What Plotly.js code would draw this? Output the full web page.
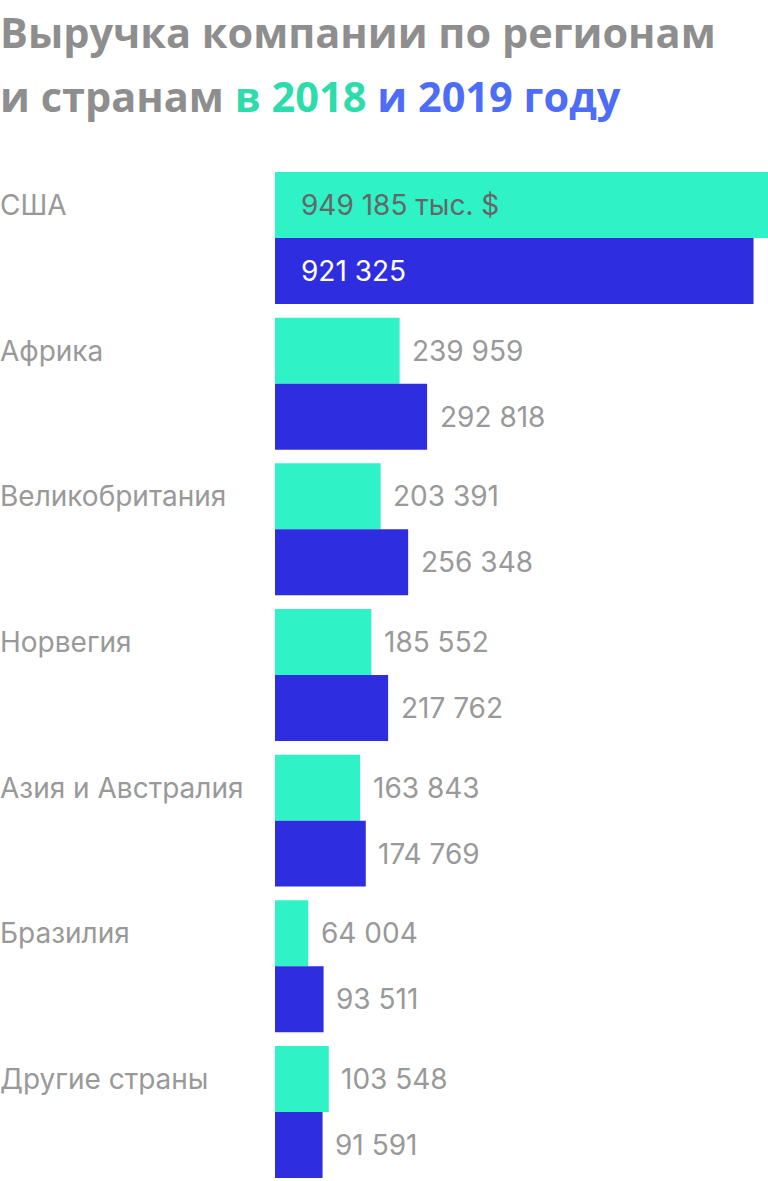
<!DOCTYPE html>
<html>
<head>
<meta charset="utf-8">
<script src="https://cdn.plot.ly/plotly-3.0.1.min.js"></script>
<style>
html,body{margin:0;padding:0;background:#fff;}
#chart{width:768px;height:1181px;}
</style>
</head>
<body>
<div id="chart"></div>
<script>
// ---- data ----
const categories = ["США", "Африка", "Великобритания", "Норвегия", "Азия и Австралия", "Бразилия", "Другие страны"];
const revenue2018 = [949185, 239959, 203391, 185552, 163843, 64004, 103548];
const revenue2019 = [921325, 292818, 256348, 217762, 174769, 93511, 91591];
const seriesNames = ["2018", "2019"];
const unitSuffix = " тыс. $";
const titleLine1 = "Выручка компании по регионам";
const titleLine2a = "и странам ";
const titleLine2b = "в 2018";
const titleLine2c = " и 2019 году";

// ---- style ----
const C18 = "#2ff3c6", C19 = "#2e2de0";
const GRAY = "#999999", TITLE_GRAY = "#8e8e8e";
const TEAL_T = "#2ddcaa", BLUE_T = "#4d6cf8";
const FONT = "Inter, Roboto, sans-serif";
const TFONT = "'Open Sans', Inter, sans-serif";

function fmt(v){ return String(v).replace(/\B(?=(\d{3})+(?!\d))/g, " "); }

const traces = [
  {type:"bar", orientation:"h", name:seriesNames[0], y:categories, x:revenue2018,
   marker:{color:C18}, hoverinfo:"none"},
  {type:"bar", orientation:"h", name:seriesNames[1], y:categories, x:revenue2019,
   marker:{color:C19}, hoverinfo:"none"}
];

const T = 165, H = 1181, PH = H - T;
const pyToPaper = py => 1 + (T - py) / PH;
const ann = [];

// title
ann.push({xref:"paper", yref:"paper", x:0, xshift:-277, xanchor:"left", y:pyToPaper(32), yanchor:"middle",
  text:"<b>"+titleLine1+"</b>", showarrow:false, font:{family:TFONT, size:41.5, color:TITLE_GRAY}});
ann.push({xref:"paper", yref:"paper", x:0, xshift:-277, xanchor:"left", y:pyToPaper(96), yanchor:"middle",
  text:"<b>"+titleLine2a+"<span style='color:"+TEAL_T+"'>"+titleLine2b+"</span><span style='color:"+BLUE_T+"'>"+titleLine2c+"</span></b>",
  showarrow:false, font:{family:TFONT, size:41.5, color:TITLE_GRAY}});

categories.forEach((c, i) => {
  ann.push({xref:"x", yref:"y", x:0, xshift:-277, xanchor:"left", y:c, yshift:33, yanchor:"middle",
    text:c, showarrow:false, font:{family:FONT, size:28, color:GRAY}});
  if (i === 0) {
    ann.push({xref:"x", yref:"y", x:0, xshift:24, xanchor:"left", y:c, yshift:33, yanchor:"middle",
      text:fmt(revenue2018[i]) + unitSuffix, showarrow:false, font:{family:FONT, size:28, color:"#666666"}});
    ann.push({xref:"x", yref:"y", x:0, xshift:24, xanchor:"left", y:c, yshift:-33, yanchor:"middle",
      text:fmt(revenue2019[i]), showarrow:false, font:{family:FONT, size:28, color:"#ffffff"}});
  } else {
    ann.push({xref:"x", yref:"y", x:revenue2018[i], xshift:10.5, xanchor:"left", y:c, yshift:33, yanchor:"middle",
      text:fmt(revenue2018[i]), showarrow:false, font:{family:FONT, size:28, color:GRAY}});
    ann.push({xref:"x", yref:"y", x:revenue2019[i], xshift:10.5, xanchor:"left", y:c, yshift:-33, yanchor:"middle",
      text:fmt(revenue2019[i]), showarrow:false, font:{family:FONT, size:28, color:GRAY}});
  }
});

const layout = {
  width:768, height:1181,
  margin:{l:275, r:0, t:T, b:0, pad:0},
  paper_bgcolor:"#fff", plot_bgcolor:"#fff",
  barmode:"group", bargap:0.094, bargroupgap:0,
  showlegend:false,
  xaxis:{range:[0, 949185], visible:false, fixedrange:true},
  yaxis:{type:"category", range:[6.474, -0.501], visible:false, fixedrange:true},
  annotations:ann,
  font:{family:FONT}
};

Plotly.newPlot("chart", traces, layout, {displayModeBar:false, staticPlot:true});
</script>
</body>
</html>
